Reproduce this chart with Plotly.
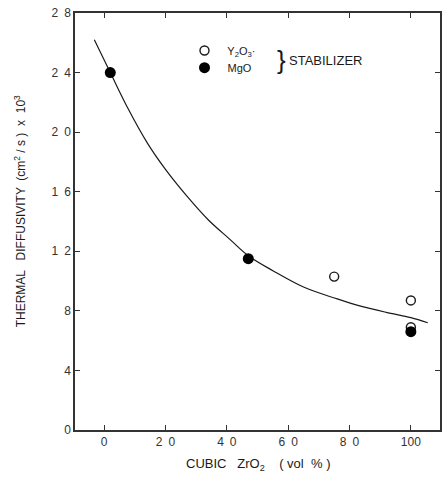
import plotly.graph_objects as go

# Data
mgo_x = [2, 47, 100]
mgo_y = [2.40, 1.15, 0.66]
y2o3_x = [75, 100, 100]
y2o3_y = [1.03, 0.87, 0.69]
curve_x = [-3.2, 2, 8, 14, 20, 27, 34, 41, 47, 55, 65, 76, 83, 92, 100, 105.5]
curve_y = [2.62, 2.40, 2.15, 1.93, 1.75, 1.57, 1.41, 1.28, 1.17, 1.07, 0.96, 0.88, 0.835, 0.79, 0.755, 0.72]

SP = "\u2002"
x_ticks = [0, 20, 40, 60, 80, 100]
x_ticktext = ["0", "2" + SP + "0", "4" + SP + "0", "6" + SP + "0", "8" + SP + "0", "100"]
y_ticks = [0, 0.4, 0.8, 1.2, 1.6, 2.0, 2.4, 2.8]
y_ticktext = ["0", "4", "8", "1" + SP + "2", "1" + SP + "6", "2" + SP + "0", "2" + SP + "4", "2" + SP + "8"]

FONT = "Liberation Sans, Arial, sans-serif"
INK = "#1a1a1a"

fig = go.Figure()
fig.add_trace(go.Scatter(x=curve_x, y=curve_y, mode="lines", line=dict(color=INK, width=1.2, shape="spline"),
                         showlegend=False, hoverinfo="skip"))
fig.add_trace(go.Scatter(x=y2o3_x, y=y2o3_y, mode="markers", name=" Y<sub>2</sub>O<sub>3</sub>·",
                         legend="legend",
                         marker=dict(symbol="circle-open", size=9, color=INK, line=dict(width=1.4))))
fig.add_trace(go.Scatter(x=mgo_x, y=mgo_y, mode="markers", name=" MgO", legend="legend2",
                         marker=dict(symbol="circle", size=11, color="#000000")))

axis_common = dict(showline=True, linecolor="#333", linewidth=1.5, mirror="ticks", ticks="inside",
                   ticklen=5, tickwidth=1.2, tickcolor="#333", showgrid=False, zeroline=False,
                   tickfont=dict(family=FONT, size=12, color="#333"))

leg_common = dict(xanchor="left", yanchor="middle", bgcolor="rgba(0,0,0,0)",
                  font=dict(family=FONT, size=11, color=INK), borderwidth=0)

fig.update_layout(
    width=448, height=487,
    margin=dict(l=75, r=6, t=10, b=57),
    paper_bgcolor="white", plot_bgcolor="white",
    font=dict(family=FONT, size=12, color=INK),
    xaxis=dict(range=[-9.5, 109.5], tickvals=x_ticks, ticktext=x_ticktext, **axis_common),
    yaxis=dict(range=[0, 2.8], tickvals=y_ticks, ticktext=y_ticktext, **axis_common),
    legend=dict(x=0.30, y=0.910, **leg_common),
    legend2=dict(x=0.30, y=0.869, **leg_common),
    annotations=[
        dict(text="}", xref="paper", yref="paper", x=0.565, y=0.888, showarrow=False,
             font=dict(family=FONT, size=26, color=INK), xanchor="center", yanchor="middle"),
        dict(text="STABILIZER", xref="paper", yref="paper", x=0.582, y=0.886, showarrow=False,
             font=dict(family=FONT, size=13, color=INK), xanchor="left", yanchor="middle"),
        dict(text="THERMAL   DIFFUSIVITY  (cm<sup>2</sup> / s )  x  10<sup>3</sup>", xref="paper", yref="paper",
             x=-0.150, xanchor="center", y=0.525, yanchor="middle", textangle=-90, showarrow=False,
             font=dict(family=FONT, size=12, color=INK)),
        dict(text="CUBIC   ZrO<sub>2</sub>    ( vol  % )", xref="paper", yref="paper",
             x=0.5, xanchor="center", y=-0.083, yanchor="middle", showarrow=False,
             font=dict(family=FONT, size=13, color=INK)),
    ],
)

fig.write_html("out.html")
